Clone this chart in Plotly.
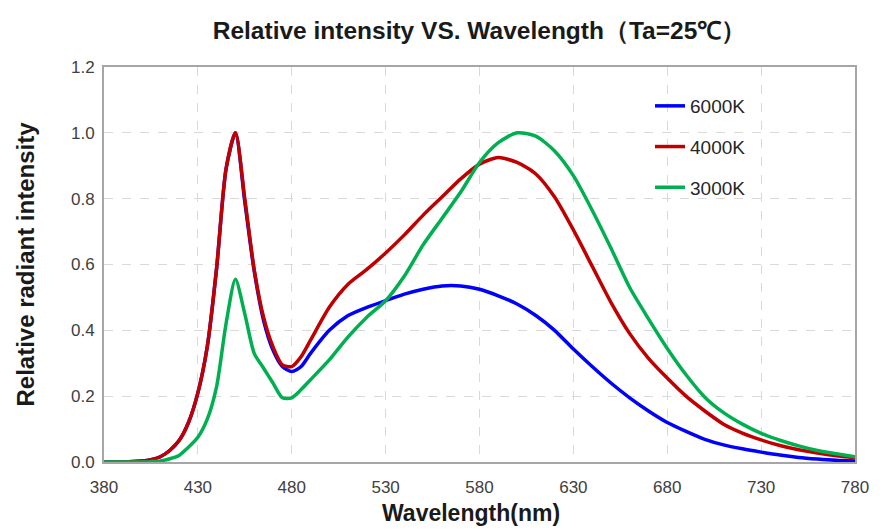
import plotly.graph_objects as go

wavelength = [380, 390, 400, 405, 410, 415, 420, 425, 430, 435, 440, 445, 450, 455, 460,
              465, 470, 475, 480, 485, 490, 500, 510, 520, 530, 540, 550, 560, 570, 580,
              590, 600, 610, 620, 630, 640, 650, 660, 670, 680, 690, 700, 710, 720, 730,
              740, 750, 760, 770, 780]

k6000 = [0.0, 0.0, 0.003, 0.007, 0.016, 0.035, 0.065, 0.12, 0.21, 0.35, 0.59, 0.89, 1.0, 0.79, 0.58,
         0.43, 0.34, 0.29, 0.275, 0.29, 0.33, 0.40, 0.445, 0.47, 0.49, 0.51, 0.525, 0.535, 0.535, 0.525,
         0.505, 0.48, 0.445, 0.40, 0.343, 0.29, 0.24, 0.195, 0.155, 0.12, 0.093, 0.069, 0.052, 0.04, 0.03,
         0.021, 0.014, 0.009, 0.005, 0.003]

k4000 = [0.0, 0.0, 0.003, 0.007, 0.016, 0.035, 0.065, 0.12, 0.21, 0.35, 0.59, 0.89, 1.0, 0.80, 0.585,
         0.44, 0.35, 0.295, 0.29, 0.32, 0.37, 0.47, 0.54, 0.585, 0.635, 0.69, 0.75, 0.805, 0.86, 0.905,
         0.925, 0.91, 0.875, 0.805, 0.705, 0.595, 0.485, 0.39, 0.315, 0.255, 0.20, 0.155, 0.115, 0.088, 0.067,
         0.05, 0.037, 0.027, 0.019, 0.013]

k3000 = [0.0, 0.0, 0.0, 0.001, 0.003, 0.01, 0.02, 0.045, 0.075, 0.13, 0.23, 0.42, 0.555, 0.45, 0.33,
         0.285, 0.24, 0.195, 0.195, 0.22, 0.25, 0.31, 0.38, 0.44, 0.49, 0.565, 0.66, 0.74, 0.82, 0.91,
         0.97, 1.0, 0.99, 0.945, 0.87, 0.765, 0.65, 0.53, 0.435, 0.345, 0.265, 0.197, 0.15, 0.115, 0.087,
         0.066, 0.049, 0.035, 0.025, 0.016]

series_names = ["6000K", "4000K", "3000K"]
series_values = [k6000, k4000, k3000]
series_colors = ["#0000FF", "#C00000", "#00B050"]

x_ticks = [380, 430, 480, 530, 580, 630, 680, 730, 780]
y_ticks = [0.0, 0.2, 0.4, 0.6, 0.8, 1.0, 1.2]
y_tick_text = ["0.0", "0.2", "0.4", "0.6", "0.8", "1.0", "1.2"]

fig = go.Figure()
for name, vals, col in zip(series_names, series_values, series_colors):
    fig.add_trace(go.Scatter(
        x=wavelength, y=vals, name=name, mode="lines", legendgroup=name,
        line=dict(color=col, width=3.5, shape="spline", smoothing=0.7),
    ))

font_family = "Liberation Sans, Arial, sans-serif"

fig.update_layout(
    width=883, height=530,
    margin=dict(l=104, r=28, t=67, b=68),
    paper_bgcolor="white", plot_bgcolor="white",
    title=dict(text="<b>Relative intensity VS. Wavelength（Ta=25℃）</b>",
               x=0.5, xref="paper", xanchor="center", y=1 - 30 / 530, yanchor="middle",
               font=dict(family=font_family, size=24.5, color="#1a1a1a")),
    legend=dict(x=(650 - 104) / 751, xanchor="left", y=(462 - 87) / 395, yanchor="top",
                bgcolor="rgba(0,0,0,0)", borderwidth=0, tracegroupgap=13,
                font=dict(family=font_family, size=19, color="#262626")),
    showlegend=True,
    annotations=[dict(text="<b>Wavelength(nm)</b>", xref="paper", yref="paper",
                      x=(471 - 104) / 751, y=(462 - 499) / 395, xanchor="center", yanchor="top",
                      showarrow=False, borderpad=0,
                      font=dict(family=font_family, size=23, color="#1a1a1a"))],
)

fig.update_xaxes(
    range=[380, 780], tickvals=x_ticks, ticktext=[str(v) for v in x_ticks],
    showgrid=True, gridcolor="#d9d9d9", griddash="dash", gridwidth=1,
    showline=True, mirror=True, linecolor="#a6a6a6", linewidth=2,
    zeroline=False, ticks="", ticklabelstandoff=9,
    tickfont=dict(family=font_family, size=17, color="#404040"),
)
fig.update_yaxes(
    range=[0, 1.2], tickvals=y_ticks, ticktext=y_tick_text,
    showgrid=True, gridcolor="#d9d9d9", griddash="dash", gridwidth=1,
    showline=True, mirror=True, linecolor="#a6a6a6", linewidth=2,
    zeroline=False, ticks="", ticklabelstandoff=4,
    tickfont=dict(family=font_family, size=17, color="#404040"),
    title=dict(text="<b>Relative radiant intensity</b>", standoff=30,
               font=dict(family=font_family, size=24, color="#1a1a1a")),
)

fig.write_html("out.html")
